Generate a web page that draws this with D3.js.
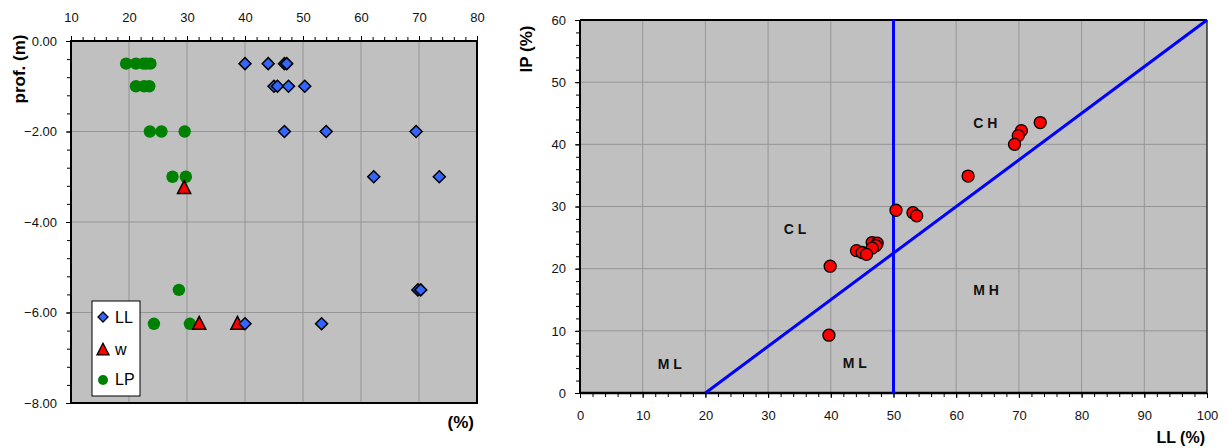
<!DOCTYPE html>
<html>
<head>
<meta charset="utf-8">
<script src="https://d3js.org/d3.v7.min.js"></script>
<style>
  body { margin: 0; background: #fff; }
  svg text { font-family: Arial, "Liberation Sans", sans-serif; }
</style>
</head>
<body>
<div id="chart"></div>
<script>
// ---- data: left chart (depth profile) ----
const llDepth = [-0.5, -0.5, -0.5, -0.5, -1, -1, -1, -1, -2, -2, -2, -3, -3, -5.5, -5.5, -6.25, -6.25];
const llValue = [40, 44, 46.8, 47.2, 45.0, 45.6, 47.5, 50.3, 46.8, 54.0, 69.5, 62.2, 73.5, 69.8, 70.3, 40.0, 53.2];

const wDepth = [-3.25, -6.25, -6.25];
const wValue = [29.5, 32.1, 38.7];

const lpDepth = [-0.5, -0.5, -0.5, -0.5, -0.5, -1, -1, -1, -2, -2, -2, -3, -3, -5.5, -6.25, -6.25];
const lpValue = [19.5, 21.2, 22.5, 23.0, 23.7, 21.2, 22.6, 23.5, 23.6, 25.6, 29.6, 27.5, 29.8, 28.6, 24.3, 30.5];

const leftXTicks = [10, 20, 30, 40, 50, 60, 70, 80];
const leftYTicks = [0, -2, -4, -6, -8];

// ---- data: right chart (plasticity) ----
const plasticLL = [73.4, 70.4, 69.9, 69.3, 61.9, 50.4, 53.1, 53.7, 44.1, 45.0, 46.6, 47.4, 47.2, 46.6, 45.7, 39.9, 39.7];
const plasticIP = [43.5, 42.2, 41.4, 40.0, 34.9, 29.4, 29.0, 28.5, 22.9, 22.6, 24.2, 24.1, 23.7, 23.3, 22.3, 20.4, 9.3];

const aLine = [[20, 0], [100, 60]];
const bLine = [[50, 0], [50, 60]];

const zoneNames = ["C H", "M H", "C L", "M L", "M L"];
const zoneLL = [62.7, 62.7, 32.5, 12.4, 41.9];
const zoneIP = [42.6, 15.8, 25.5, 3.9, 4.0];

const rightXTicks = [0, 10, 20, 30, 40, 50, 60, 70, 80, 90, 100];
const rightYTicks = [0, 10, 20, 30, 40, 50, 60];

const svg = d3.select("#chart").append("svg")
    .attr("width", 1228)
    .attr("height", 448);

const diamond = r => `M0,${-r}L${r},0L0,${r}L${-r},0Z`;
const triangle = s => `M0,${-s * 0.62}L${s * 0.55},${s * 0.45}L${-s * 0.55},${s * 0.45}Z`;

function styleAxis(g, size) {
    g.select(".domain").remove();
    g.selectAll("line").attr("stroke", "#000");
    g.selectAll("text")
        .attr("font-family", "Arial, 'Liberation Sans', sans-serif")
        .attr("font-size", size)
        .attr("fill", "#111");
}

// ================= LEFT CHART =================
const lx = d3.scaleLinear().domain([10, 80]).range([71, 477]);
const ly = d3.scaleLinear().domain([-8, 0]).range([403, 41]);

svg.append("rect")
    .attr("x", lx(10)).attr("y", ly(0))
    .attr("width", lx(80) - lx(10)).attr("height", ly(-8) - ly(0))
    .attr("fill", "#c0c0c0");

// grid
svg.append("g").selectAll("line")
    .data(leftXTicks.slice(1, -1))
    .join("line")
    .attr("x1", d => lx(d)).attr("x2", d => lx(d))
    .attr("y1", ly(0)).attr("y2", ly(-8))
    .attr("stroke", "#959595");
svg.append("g").selectAll("line")
    .data(leftYTicks.slice(1, -1))
    .join("line")
    .attr("x1", lx(10)).attr("x2", lx(80))
    .attr("y1", d => ly(d)).attr("y2", d => ly(d))
    .attr("stroke", "#959595");

// minor ticks
svg.append("g")
    .attr("transform", `translate(0,${ly(0)})`)
    .call(d3.axisTop(lx).tickValues(d3.range(10, 81, 2)).tickSize(4).tickFormat(""))
    .call(g => styleAxis(g, 13));
svg.append("g")
    .attr("transform", `translate(${lx(10)},0)`)
    .call(d3.axisLeft(ly).tickValues(d3.range(0, 21).map(i => -i * 0.4)).tickSize(4).tickFormat(""))
    .call(g => styleAxis(g, 13));

// major ticks + labels
svg.append("g")
    .attr("transform", `translate(0,${ly(0)})`)
    .call(d3.axisTop(lx).tickValues(leftXTicks).tickSize(5).tickPadding(14))
    .call(g => styleAxis(g, 13));
svg.append("g")
    .attr("transform", `translate(${lx(10)},0)`)
    .call(d3.axisLeft(ly).tickValues(leftYTicks).tickSize(5).tickPadding(9).tickFormat(d3.format(".2f")))
    .call(g => styleAxis(g, 13));

// frame
svg.append("rect")
    .attr("x", lx(10)).attr("y", ly(0))
    .attr("width", lx(80) - lx(10)).attr("height", ly(-8) - ly(0))
    .attr("fill", "none").attr("stroke", "#000").attr("stroke-width", 2);

// series
svg.append("g").selectAll("circle")
    .data(d3.zip(lpValue, lpDepth))
    .join("circle")
    .attr("cx", d => lx(d[0])).attr("cy", d => ly(d[1]))
    .attr("r", 6.2)
    .attr("fill", "#008000");

svg.append("g").selectAll("path")
    .data(d3.zip(wValue, wDepth))
    .join("path")
    .attr("d", triangle(12))
    .attr("transform", d => `translate(${lx(d[0])},${ly(d[1])})`)
    .attr("fill", "#ff0000").attr("stroke", "#000").attr("stroke-width", 1.5);

svg.append("g").selectAll("path")
    .data(d3.zip(llValue, llDepth))
    .join("path")
    .attr("d", diamond(6))
    .attr("transform", d => `translate(${lx(d[0])},${ly(d[1])})`)
    .attr("fill", "#3366ff").attr("stroke", "#000").attr("stroke-width", 1.5);

// axis titles
svg.append("text")
    .attr("transform", "translate(25,69) rotate(-90)")
    .attr("text-anchor", "middle")
    .attr("font-size", 17).attr("font-weight", "bold")
    .text("prof. (m)");
svg.append("text")
    .attr("x", 474).attr("y", 428)
    .attr("text-anchor", "end")
    .attr("font-size", 17).attr("font-weight", "bold")
    .text("(%)");

// legend
const legend = svg.append("g");
legend.append("rect")
    .attr("x", 92).attr("y", 301).attr("width", 48).attr("height", 95)
    .attr("fill", "#fff").attr("stroke", "#000");
legend.append("path").attr("d", diamond(5)).attr("transform", "translate(103,317)")
    .attr("fill", "#3366ff").attr("stroke", "#000").attr("stroke-width", 1.3);
legend.append("path").attr("d", triangle(11)).attr("transform", "translate(103,350)")
    .attr("fill", "#ff0000").attr("stroke", "#000").attr("stroke-width", 1.3);
legend.append("circle").attr("cx", 103).attr("cy", 380).attr("r", 5)
    .attr("fill", "#008000");
legend.selectAll("text")
    .data(["LL", "w", "LP"])
    .join("text")
    .attr("x", 115)
    .attr("y", (d, i) => [323, 355, 385][i])
    .attr("font-size", 16)
    .attr("fill", "#000")
    .text(d => d);

// ================= RIGHT CHART =================
const rx = d3.scaleLinear().domain([0, 100]).range([580, 1207]);
const ry = d3.scaleLinear().domain([0, 60]).range([393, 20]);

svg.append("rect")
    .attr("x", rx(0)).attr("y", ry(60))
    .attr("width", rx(100) - rx(0)).attr("height", ry(0) - ry(60))
    .attr("fill", "#c0c0c0");

svg.append("g").selectAll("line")
    .data(rightXTicks.slice(1, -1))
    .join("line")
    .attr("x1", d => rx(d)).attr("x2", d => rx(d))
    .attr("y1", ry(0)).attr("y2", ry(60))
    .attr("stroke", "#959595");
svg.append("g").selectAll("line")
    .data(rightYTicks.slice(1, -1))
    .join("line")
    .attr("x1", rx(0)).attr("x2", rx(100))
    .attr("y1", d => ry(d)).attr("y2", d => ry(d))
    .attr("stroke", "#959595");

svg.append("g")
    .attr("transform", `translate(0,${ry(0)})`)
    .call(d3.axisBottom(rx).tickValues(d3.range(0, 101, 2)).tickSize(4).tickFormat(""))
    .call(g => styleAxis(g, 13));
svg.append("g")
    .attr("transform", `translate(${rx(0)},0)`)
    .call(d3.axisLeft(ry).tickValues(d3.range(0, 61, 2)).tickSize(4).tickFormat(""))
    .call(g => styleAxis(g, 13));
svg.append("g")
    .attr("transform", `translate(0,${ry(0)})`)
    .call(d3.axisBottom(rx).tickValues(rightXTicks).tickSize(5).tickPadding(13))
    .call(g => styleAxis(g, 13));
svg.append("g")
    .attr("transform", `translate(${rx(0)},0)`)
    .call(d3.axisLeft(ry).tickValues(rightYTicks).tickSize(5).tickPadding(9))
    .call(g => styleAxis(g, 13));

// frame: heavy left/bottom/top, light right
svg.append("line").attr("x1", rx(0)).attr("x2", rx(100)).attr("y1", ry(60)).attr("y2", ry(60))
    .attr("stroke", "#000").attr("stroke-width", 2);
svg.append("line").attr("x1", rx(100)).attr("x2", rx(100)).attr("y1", ry(60)).attr("y2", ry(0))
    .attr("stroke", "#000").attr("stroke-width", 1.2);
svg.append("line").attr("x1", rx(0)).attr("x2", rx(100)).attr("y1", ry(0)).attr("y2", ry(0))
    .attr("stroke", "#000").attr("stroke-width", 2.5);
svg.append("line").attr("x1", rx(0)).attr("x2", rx(0)).attr("y1", ry(60)).attr("y2", ry(0))
    .attr("stroke", "#000").attr("stroke-width", 2);

// classification lines
const line = d3.line().x(d => rx(d[0])).y(d => ry(d[1]));
[aLine, bLine].forEach(l => {
    svg.append("path")
        .attr("d", line(l))
        .attr("fill", "none")
        .attr("stroke", "#0000ff")
        .attr("stroke-width", 3);
});

// zone labels
svg.append("g").selectAll("text")
    .data(d3.zip(zoneNames, zoneLL, zoneIP))
    .join("text")
    .attr("x", d => rx(d[1])).attr("y", d => ry(d[2]))
    .attr("font-size", 14).attr("font-weight", "bold")
    .attr("fill", "#111")
    .text(d => d[0]);

// points
svg.append("g").selectAll("circle")
    .data(d3.zip(plasticLL, plasticIP))
    .join("circle")
    .attr("cx", d => rx(d[0])).attr("cy", d => ry(d[1]))
    .attr("r", 6)
    .attr("fill", "#ff0000").attr("stroke", "#000").attr("stroke-width", 1.3);

// axis titles
svg.append("text")
    .attr("transform", "translate(532,49) rotate(-90)")
    .attr("text-anchor", "middle")
    .attr("font-size", 17).attr("font-weight", "bold")
    .text("IP (%)");
svg.append("text")
    .attr("x", 1205).attr("y", 443)
    .attr("text-anchor", "end")
    .attr("font-size", 16).attr("font-weight", "bold")
    .text("LL (%)");
</script>
</body>
</html>
